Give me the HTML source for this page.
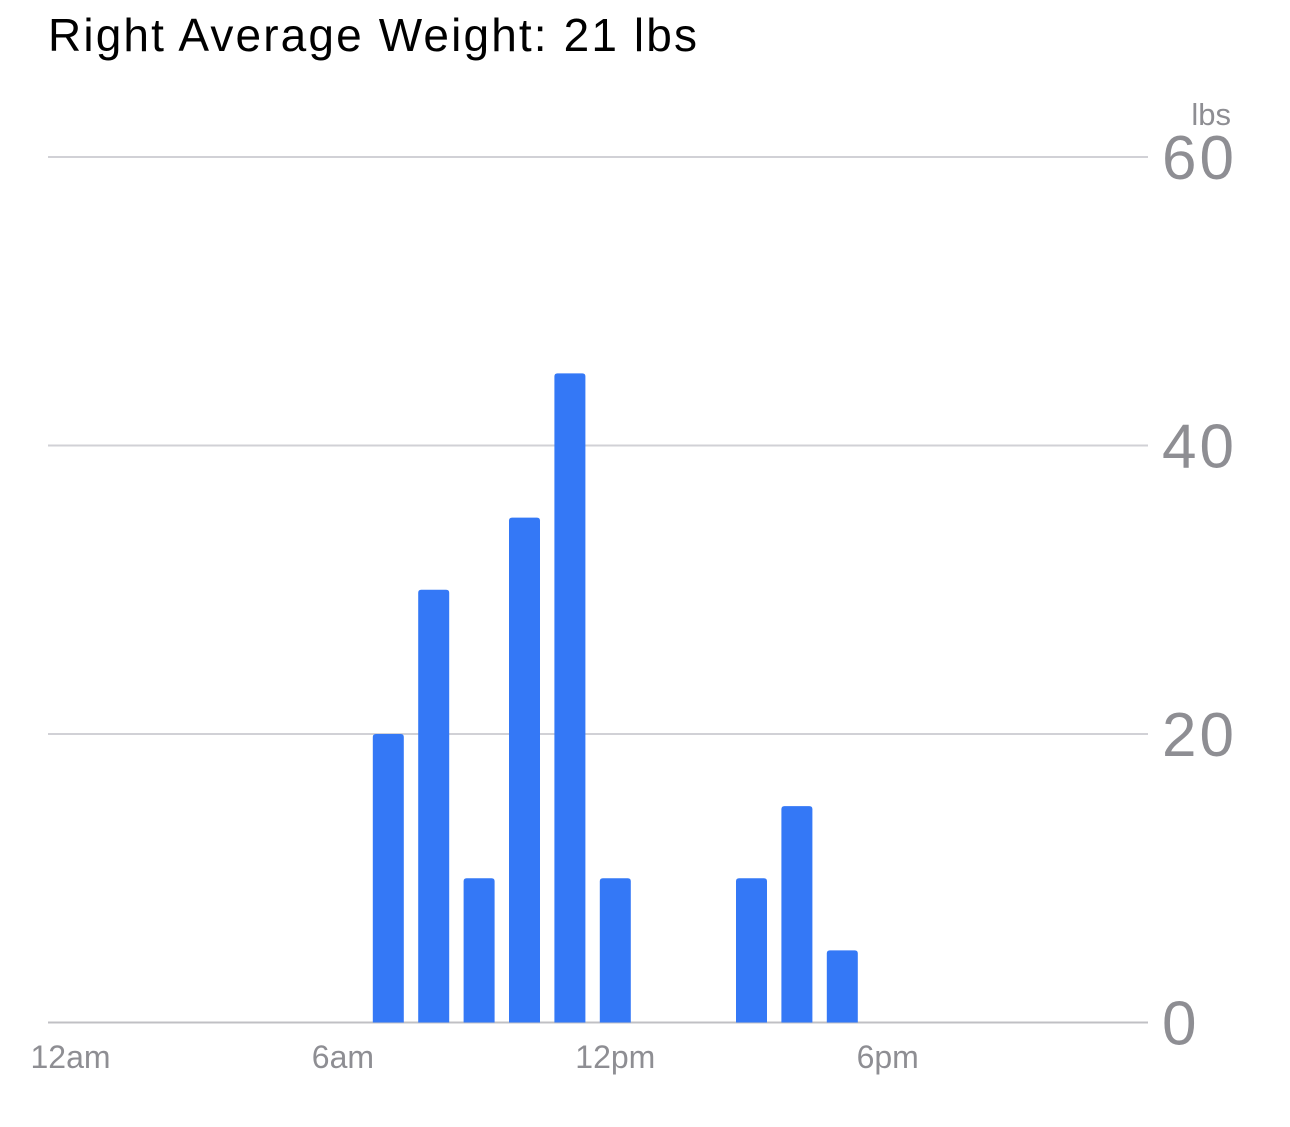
<!DOCTYPE html>
<html><head><meta charset="utf-8"><style>
html,body{margin:0;padding:0;background:#fff;width:1290px;height:1127px;overflow:hidden;font-family:"Liberation Sans",sans-serif}
</style></head><body>
<svg width="1290" height="1127" xmlns="http://www.w3.org/2000/svg">
<text x="48" y="51" font-size="46" fill="#000" textLength="649" lengthAdjust="spacing">Right Average Weight: 21 lbs</text>
<text x="1231" y="125" font-size="31" fill="#8e8e93" text-anchor="end">lbs</text>
<g id="grid"></g><g id="bars"></g><g id="xlabels"></g>
</svg>
<script>
const hours = [7, 8, 9, 10, 11, 12, 15, 16, 17];
const values = [20, 30, 10, 35, 45, 10, 10, 15, 5];
const yTicks = [0, 20, 40, 60];
const xTickHours = [0, 6, 12, 18];
const xTickLabels = ["12am", "6am", "12pm", "6pm"];
const NS = "http://www.w3.org/2000/svg";
const y = v => 1022.5 - v * (865.5 / 60);
const x = h => 70.5 + h * 45.4;
const grid = document.getElementById('grid');
yTicks.forEach(t => {
  const l = document.createElementNS(NS, 'line');
  l.setAttribute('x1', 48); l.setAttribute('x2', 1148);
  l.setAttribute('y1', y(t)); l.setAttribute('y2', y(t));
  l.setAttribute('stroke', t === 0 ? '#c0c0c4' : '#d1d1d6'); l.setAttribute('stroke-width', 2);
  
  
  grid.appendChild(l);
  const tx = document.createElementNS(NS, 'text');
  tx.setAttribute('x', 1162); tx.setAttribute('y', y(t) + 22);
  tx.setAttribute('font-size', 62); tx.setAttribute('fill', '#8e8e93');
  tx.setAttribute('letter-spacing', '3');
  tx.textContent = t;
  
  
  grid.appendChild(tx);
});
const bars = document.getElementById('bars');
hours.forEach((h, i) => {
  const top = y(values[i]), bot = y(0), w = 31, r = 3, l = x(h) - w / 2;
  const p = document.createElementNS(NS, 'path');
  p.setAttribute('d', `M${l},${bot} V${top + r} Q${l},${top} ${l + r},${top} H${l + w - r} Q${l + w},${top} ${l + w},${top + r} V${bot} Z`);
  p.setAttribute('fill', '#3478f6');
  
  
  bars.appendChild(p);
});
const xl = document.getElementById('xlabels');
xTickHours.forEach((h, i) => {
  const t = document.createElementNS(NS, 'text');
  t.setAttribute('x', x(h)); t.setAttribute('y', 1068);
  t.setAttribute('font-size', 32); t.setAttribute('fill', '#8e8e93'); t.setAttribute('text-anchor', 'middle');
  t.textContent = xTickLabels[i];
  
  
  xl.appendChild(t);
});
</script>
</body></html>
